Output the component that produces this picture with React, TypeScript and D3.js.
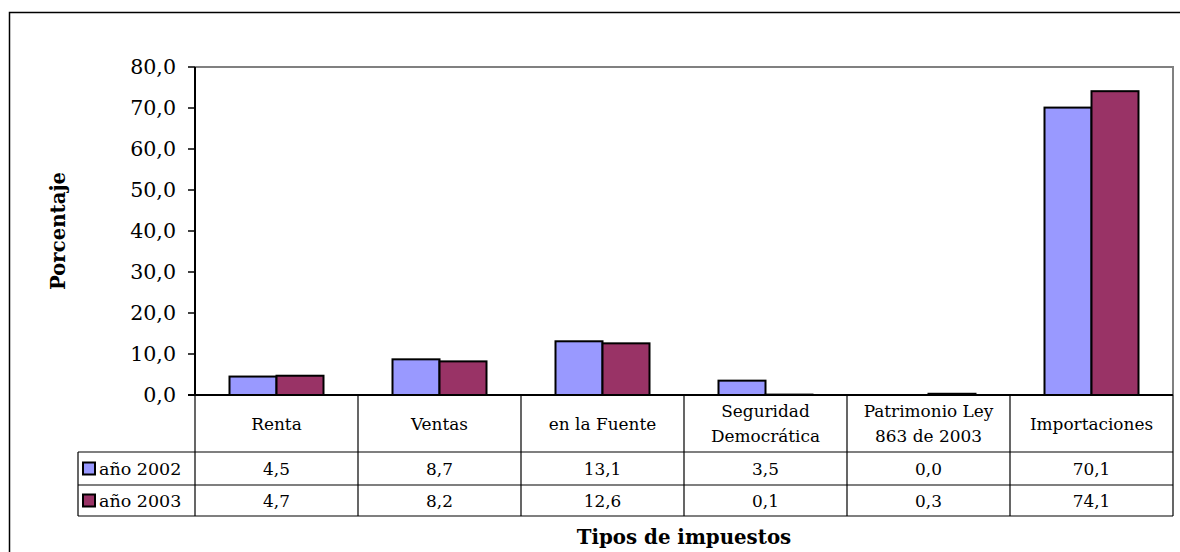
import React from "react";
import * as d3 from "d3";

const categories: string[][] = [
  ["Renta"],
  ["Ventas"],
  ["en la Fuente"],
  ["Seguridad", "Democrática"],
  ["Patrimonio Ley", "863 de 2003"],
  ["Importaciones"],
];
const values2002 = [4.5, 8.7, 13.1, 3.5, 0.0, 70.1];
const values2003 = [4.7, 8.2, 12.6, 0.1, 0.3, 74.1];
const seriesNames = ["año 2002", "año 2003"];
const seriesColors = ["#9999FF", "#993366"];
const yTicks = [0, 10, 20, 30, 40, 50, 60, 70, 80];

const fmt = (v: number) => v.toFixed(1).replace(".", ",");

export default function App() {
  const W = 1180, H = 552;
  const left = 195, right = 1173, top = 67, bottom = 395;
  const font = "'DejaVu Serif', serif";
  const tfs = 16.9;
  const y = d3.scaleLinear().domain([0, 80]).range([bottom, top]);
  const x = d3.scaleBand<number>().domain(d3.range(categories.length)).range([left, right]).paddingInner(0).paddingOuter(0);
  const bw = x.bandwidth();
  const barW = 47;
  const inner = d3.scaleBand<number>().domain([0, 1]).range([(bw - 2 * barW) / 2, (bw + 2 * barW) / 2]);
  const series = [values2002, values2003];
  const row0Bottom = 452, row1Bottom = 485, row2Bottom = 516;
  const legendLeft = 78;

  return (
    <svg width={W} height={H} style={{ position: "absolute", left: 0, top: 0, background: "#fff" }}>
      <rect x={0} y={0} width={W} height={H} fill="#fff" />
      {/* outer border */}
      <path d={`M9.5,${H + 5} V12.5 H${W + 5}`} fill="none" stroke="#000" strokeWidth={1.5} />
      {/* plot frame top/right */}
      <path d={`M${left},${top} H${right} V${bottom}`} fill="none" stroke="#808080" strokeWidth={2} />
      {/* bars */}
      {series.map((vals, si) =>
        vals.map((v, i) => (
          <rect
            key={`${si}-${i}`}
            x={(x(i) as number) + (inner(si) as number)}
            y={y(v)}
            width={inner.bandwidth()}
            height={bottom - y(v)}
            fill={seriesColors[si]}
            stroke="#000"
            strokeWidth={2}
          />
        ))
      )}
      {/* y axis */}
      <line x1={left} x2={left} y1={top} y2={bottom} stroke="#000" strokeWidth={2} />
      {yTicks.map((t) => (
        <g key={t}>
          <line x1={188} x2={left} y1={y(t)} y2={y(t)} stroke="#000" strokeWidth={1.5} />
          <text x={176} y={y(t)} dy="0.36em" textAnchor="end" fontFamily={font} fontSize={20.6} fill="#000">
            {fmt(t)}
          </text>
        </g>
      ))}
      {/* x axis line */}
      <line x1={188} x2={right} y1={bottom} y2={bottom} stroke="#000" strokeWidth={2} />
      {/* data table */}
      <g stroke="#000" strokeWidth={1.2} fill="none">
        <line x1={legendLeft} x2={right} y1={row0Bottom} y2={row0Bottom} />
        <line x1={legendLeft} x2={right} y1={row1Bottom} y2={row1Bottom} />
        <line x1={legendLeft} x2={right} y1={row2Bottom} y2={row2Bottom} />
        <line x1={legendLeft} x2={legendLeft} y1={row0Bottom} y2={row2Bottom} />
        {d3.range(categories.length + 1).map((i) => {
          const xx = i < categories.length ? (x(i) as number) : right;
          return <line key={i} x1={xx} x2={xx} y1={bottom} y2={row2Bottom} />;
        })}
      </g>
      {categories.map((lines, i) => {
        const cx = (x(i) as number) + bw / 2;
        const cy = (bottom + row0Bottom) / 2;
        const lh = 25;
        return (
          <text key={i} textAnchor="middle" fontFamily={font} fontSize={tfs} fill="#000">
            {lines.map((l, k) => (
              <tspan key={k} x={cx} y={cy + (k - (lines.length - 1) / 2) * lh} dy="0.36em">
                {l}
              </tspan>
            ))}
          </text>
        );
      })}
      {series.map((vals, si) => {
        const rt = si === 0 ? row0Bottom : row1Bottom;
        const rb = si === 0 ? row1Bottom : row2Bottom;
        const cy = (rt + rb) / 2;
        return (
          <g key={si}>
            <rect x={83} y={cy - 6} width={12} height={12} fill={seriesColors[si]} stroke="#000" strokeWidth={2} />
            <text x={99} y={cy} dy="0.36em" fontFamily={font} fontSize={17.5} fill="#000">
              {seriesNames[si]}
            </text>
            {vals.map((v, i) => (
              <text key={i} x={(x(i) as number) + bw / 2} y={cy} dy="0.36em" textAnchor="middle" fontFamily={font} fontSize={tfs} fill="#000">
                {fmt(v)}
              </text>
            ))}
          </g>
        );
      })}
      {/* axis titles */}
      <text
        transform={`translate(58,${231}) rotate(-90)`}
        textAnchor="middle"
        dy="0.36em"
        fontFamily={font}
        fontWeight="bold"
        fontSize={19.7}
        fill="#000"
      >
        Porcentaje
      </text>
      <text x={(left + right) / 2} y={537} dy="0.36em" textAnchor="middle" fontFamily={font} fontWeight="bold" fontSize={19.8} fill="#000">
        Tipos de impuestos
      </text>
    </svg>
  );
}
